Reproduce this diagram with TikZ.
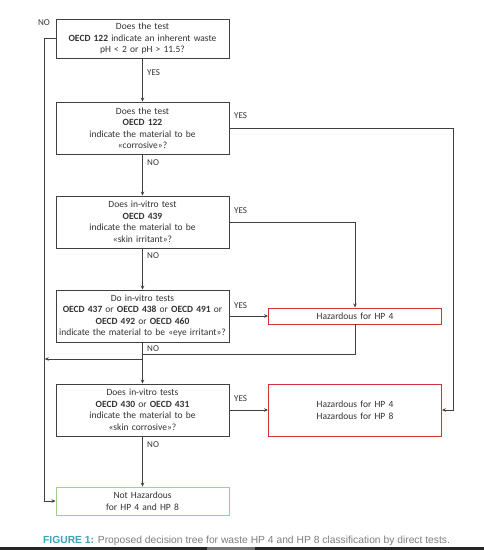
\documentclass[tikz,border=0pt]{standalone}
\usepackage{fontspec}
\setmainfont{Carlito}
\newfontfamily\capfont{Liberation Sans}
\usetikzlibrary{arrows.meta}
\definecolor{txt}{HTML}{333333}
\definecolor{frame}{HTML}{404040}
\definecolor{hzred}{HTML}{D03238}
\definecolor{okgreen}{HTML}{9CD58A}
\definecolor{capteal}{HTML}{3AA3B5}
\definecolor{capgray}{HTML}{7F7F7F}
\tikzset{
  qbox/.style={draw=frame, line width=0.9pt, text=txt, align=center, inner sep=0pt,
    text width=173pt, minimum width=173pt, font=\fontsize{9.5}{11.5}\selectfont},
  redbox/.style={qbox, draw=hzred},
  greenbox/.style={qbox, draw=okgreen},
  lbl/.style={text=txt, inner sep=0pt, font=\fontsize{9}{10}\selectfont},
  conn/.style={draw=frame, line width=0.8pt},
  arr/.style={conn, -{Stealth[length=4pt,width=3.5pt]}}
}
\begin{document}
\begin{tikzpicture}[x=1pt,y=-1pt]
\useasboundingbox (0,0) rectangle (484,550);
\fill[white] (0,0) rectangle (484,550);
\fill[black!85] (0,547) rectangle (484,550);
\fill[black!55] (207,547) rectangle (255,550);

\node[qbox, minimum height=39pt] (b1) at (142.5,38.5)
  {Does the test\\\textbf{OECD 122} indicate an inherent waste\\pH < 2 or pH > 11.5?};
\node[qbox, minimum height=52pt] (b2) at (142.5,128)
  {Does the test\\\textbf{OECD 122}\\indicate the material to be\\«corrosive»?};
\node[qbox, minimum height=52pt] (b3) at (142.5,222)
  {Does in-vitro test\\\textbf{OECD 439}\\indicate the material to be\\«skin irritant»?};
\node[qbox, minimum height=52pt] (b4) at (142.5,316)
  {Do in-vitro tests\\\textbf{OECD 437} or \textbf{OECD 438} or \textbf{OECD 491} or\\\textbf{OECD 492} or \textbf{OECD 460}\\indicate the material to be «eye irritant»?};
\node[qbox, minimum height=52pt] (b5) at (142.5,410)
  {Does in-vitro tests\\\textbf{OECD 430} or \textbf{OECD 431}\\indicate the material to be\\«skin corrosive»?};
\node[greenbox, minimum height=28pt] (ok) at (142.5,501)
  {Not Hazardous\\for HP 4 and HP 8};
\node[redbox, minimum height=16pt] (hp4) at (355,316) {Hazardous for HP 4};
\node[redbox, minimum height=52pt] (hp48) at (355,410) {Hazardous for HP 4\\Hazardous for HP 8};

\coordinate (leftc) at (44.7,38.5);
\coordinate (merge) at (142.5,354);
\coordinate (split) at (142.5,359);
\coordinate (splitend) at (44.7,359);

\draw[arr] (b1.west) -- (leftc) |- (ok.west);
\draw[arr] (b1.south) -- (b2.north);
\draw[arr] (b2.east) -- (453,128) |- (hp48.east);
\draw[arr] (b2.south) -- (b3.north);
\draw[arr] (b3.east) -| (hp4.north);
\draw[arr] (b3.south) -- (b4.north);
\draw[arr] (b4.east) -- (hp4.west);
\draw[conn] (hp4.south) |- (merge);
\draw[arr] (b4.south) -- (b5.north);
\draw[arr] (split) -- (splitend);
\draw[arr] (b5.east) -- (hp48.west);
\draw[arr] (b5.south) -- (ok.north);

\node[lbl] at (44,23) {NO};
\node[lbl, anchor=west] at (147,73) {YES};
\node[lbl, anchor=west] at (234,116) {YES};
\node[lbl, anchor=west] at (147,163) {NO};
\node[lbl, anchor=west] at (234,211) {YES};
\node[lbl, anchor=west] at (147,256) {NO};
\node[lbl, anchor=west] at (234,306) {YES};
\node[lbl, anchor=west] at (147,349) {NO};
\node[lbl, anchor=west] at (234,399) {YES};
\node[lbl, anchor=west] at (147,445) {NO};

\node[anchor=west, inner sep=0pt, font=\capfont\fontsize{10.3}{11}\selectfont] (cap) at (43,541)
  {\textcolor{capteal}{\textbf{FIGURE 1:}} \textcolor{capgray}{Proposed decision tree for waste HP 4 and HP 8 classification by direct tests.}};
\end{tikzpicture}
\end{document}
